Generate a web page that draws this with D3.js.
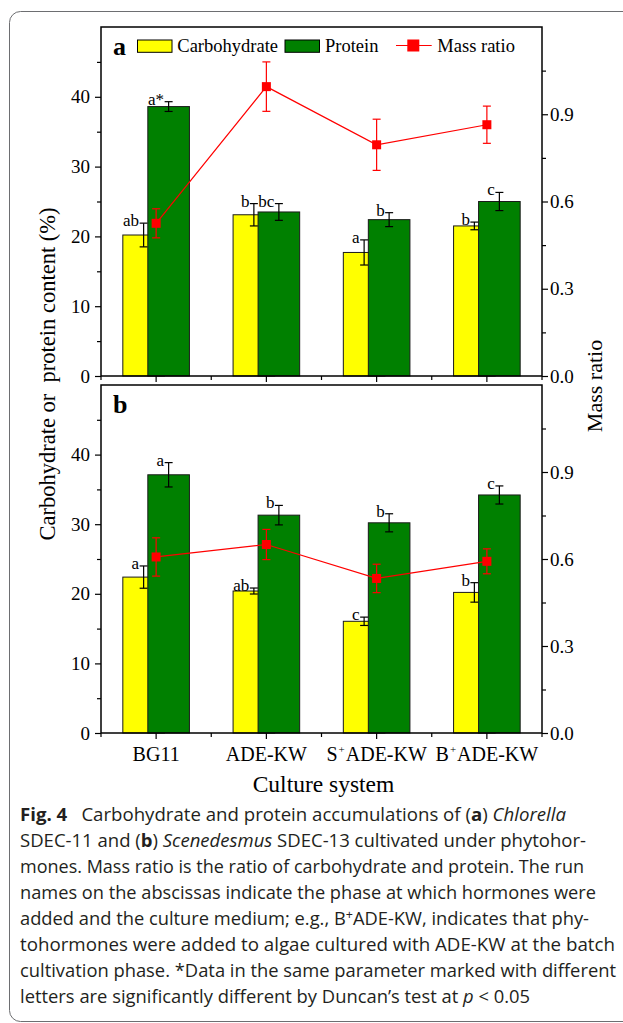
<!DOCTYPE html>
<html><head><meta charset="utf-8">
<script src="https://cdn.jsdelivr.net/npm/d3@7"></script>
<style>body{margin:0;background:#fff} svg{display:block} text{white-space:pre}</style>
</head><body><svg id="c" width="623" height="1023"></svg>
<script>
// ---------------- data ----------------
const categories = ["BG11", "ADE-KW", "S+ADE-KW", "B+ADE-KW"];

const carbA    = [20.2, 23.1, 17.7, 21.5];
const carbAErr = [1.7, 1.6, 1.8, 0.55];
const protA    = [38.6, 23.5, 22.4, 25.0];
const protAErr = [0.7, 1.2, 1.0, 1.3];
const ratioA   = [0.525, 0.995, 0.795, 0.864];
const ratioAErr= [0.05, 0.085, 0.088, 0.064];
const lettersCarbA = ["ab", "b", "a", "b"];
const lettersProtA = ["a*", "bc", "b", "c"];

const carbB    = [22.4, 20.4, 16.05, 20.2];
const carbBErr = [1.6, 0.43, 0.6, 1.4];
const protB    = [37.1, 31.3, 30.2, 34.2];
const protBErr = [1.75, 1.4, 1.3, 1.3];
const ratioB   = [0.607, 0.650, 0.533, 0.592];
const ratioBErr= [0.066, 0.052, 0.049, 0.043];
const lettersCarbB = ["a", "ab", "c", "b"];
const lettersProtB = ["a", "b", "b", "c"];

const leftTicks  = [0, 10, 20, 30, 40];
const leftMinor  = [5, 15, 25, 35, 45];
const rightTicks = [0, 0.3, 0.6, 0.9];
const rightMinor = [0.15, 0.45, 0.75, 1.05];

const seriesNames = ["Carbohydrate", "Protein", "Mass ratio"];
const yTitle = "Carbohydrate or  protein content (%)";
const y2Title = "Mass ratio";
const xTitle = "Culture system";

const caption = [
  [{t:"Fig. 4", b:1}, {t:"\u2002 Carbohydrate and protein accumulations of ("}, {t:"a", b:1}, {t:") "}, {t:"Chlorella", i:1}],
  [{t:"SDEC-11 and ("}, {t:"b", b:1}, {t:") "}, {t:"Scenedesmus", i:1}, {t:" SDEC-13 cultivated under phytohor-"}],
  [{t:"mones. Mass ratio is the ratio of carbohydrate and protein. The run"}],
  [{t:"names on the abscissas indicate the phase at which hormones were"}],
  [{t:"added and the culture medium; e.g., B"}, {t:"+", sup:1}, {t:"ADE-KW, indicates that phy-"}],
  [{t:"tohormones were added to algae cultured with ADE-KW at the batch"}],
  [{t:"cultivation phase. *Data in the same parameter marked with different"}],
  [{t:"letters are significantly different by Duncan\u2019s test at "}, {t:"p", i:1}, {t:" < 0.05"}]
];
const captionEnds = [566, 586, 584, 596, 589, 615, 616, 530];

// ---------------- drawing ----------------
const W = 623, H = 1023;
const svg = d3.select("#c");
svg.append("rect").attr("width", W).attr("height", H).attr("fill", "#fff");
svg.append("rect").attr("x", 9.5).attr("y", 11.5).attr("width", 720).attr("height", 1010)
  .attr("rx", 11).attr("fill", "none").attr("stroke", "#6d6e71").attr("stroke-width", 1);

const SERIF = "'Liberation Serif','Times New Roman',serif";
const L = 101, R = 542;
const x = d3.scaleBand().domain(categories).range([L, R]).padding(0);
const sub = d3.scalePoint().domain(["carb", "prot"]).range([-12.5, 12.5]);
const barW = 41.6;
const YELLOW = "#ffff00", GREEN = "#008000", RED = "#ff0000";

function supLabel(sel, supSize, rise) {
  sel.each(function(d) {
    const t = d3.select(this); const s = String(d);
    const i = s.indexOf("+");
    if (i < 0) return;
    t.text(null);
    t.append("tspan").text(s.slice(0, i));
    t.append("tspan").attr("font-size", supSize).attr("dy", -rise).attr("dx", 1).text("+");
    t.append("tspan").attr("dy", rise).attr("dx", 1).text(s.slice(i + 1));
  });
}

function panel(o) {
  const {top, bottom} = o;
  const y = d3.scaleLinear().domain([0, 50]).range([bottom, top]);
  const yr = d3.scaleLinear().domain([0, 1.2]).range([bottom, top]);
  const g = svg.append("g");
  const cx = c => x(c) + x.bandwidth() / 2;

  function bars(vals, errs, letters, key, color) {
    g.append("g").selectAll("rect").data(categories).join("rect")
      .attr("x", (c, i) => cx(c) + sub(key) - barW / 2)
      .attr("y", (c, i) => y(vals[i]))
      .attr("width", barW)
      .attr("height", (c, i) => bottom - y(vals[i]))
      .attr("fill", color).attr("stroke", "#1a1a1a").attr("stroke-width", 1);
    const eg = g.append("g").attr("stroke", "#000").attr("stroke-width", 1.2).attr("fill", "none");
    categories.forEach((c, i) => {
      const ex = cx(c) + sub(key);
      const t = y(vals[i] + errs[i]), b = y(vals[i] - errs[i]);
      eg.append("line").attr("x1", ex).attr("x2", ex).attr("y1", t).attr("y2", b);
      eg.append("line").attr("x1", ex - 4).attr("x2", ex + 4).attr("y1", t).attr("y2", t);
      eg.append("line").attr("x1", ex - 4).attr("x2", ex + 4).attr("y1", b).attr("y2", b);
      g.append("text").attr("x", ex - 4.5).attr("y", t + 3)
        .attr("text-anchor", "end").attr("font-family", SERIF).attr("font-size", 17)
        .attr("fill", "#000").text(letters[i]);
    });
  }
  bars(o.carb, o.carbErr, o.lc, "carb", YELLOW);
  bars(o.prot, o.protErr, o.lp, "prot", GREEN);

  // ratio line
  const line = d3.line().x((d, i) => cx(categories[i])).y(d => yr(d));
  g.append("path").datum(o.ratio).attr("d", line).attr("fill", "none")
    .attr("stroke", RED).attr("stroke-width", 1.2);
  const rg = g.append("g").attr("stroke", RED).attr("stroke-width", 1.2);
  categories.forEach((c, i) => {
    const ex = cx(c);
    const t = yr(o.ratio[i] + o.ratioErr[i]), b = yr(o.ratio[i] - o.ratioErr[i]);
    rg.append("line").attr("x1", ex).attr("x2", ex).attr("y1", t).attr("y2", b);
    rg.append("line").attr("x1", ex - 4).attr("x2", ex + 4).attr("y1", t).attr("y2", t);
    rg.append("line").attr("x1", ex - 4).attr("x2", ex + 4).attr("y1", b).attr("y2", b);
  });
  g.append("g").selectAll("rect").data(o.ratio).join("rect")
    .attr("x", (d, i) => cx(categories[i]) - 4.5).attr("y", d => yr(d) - 4.5)
    .attr("width", 9).attr("height", 9).attr("fill", RED);

  // frame
  g.append("rect").attr("x", L).attr("y", top).attr("width", R - L).attr("height", bottom - top)
    .attr("fill", "none").attr("stroke", "#000").attr("stroke-width", 1.5);

  const la = g.append("g").attr("transform", `translate(${L},0)`)
    .call(d3.axisLeft(y).tickValues(leftTicks).tickSize(6).tickPadding(5).tickFormat(d3.format("d")));
  const lm = g.append("g").attr("transform", `translate(${L},0)`)
    .call(d3.axisLeft(y).tickValues(leftMinor).tickSize(4).tickFormat(""));
  const ra = g.append("g").attr("transform", `translate(${R},0)`)
    .call(d3.axisRight(yr).tickValues(rightTicks).tickSize(6).tickPadding(2).tickFormat(d3.format(".1f")));
  const rm = g.append("g").attr("transform", `translate(${R},0)`)
    .call(d3.axisRight(yr).tickValues(rightMinor).tickSize(4).tickFormat(""));
  const ba = g.append("g").attr("transform", `translate(0,${bottom})`)
    .call(d3.axisBottom(x).tickSize(6).tickPadding(8).tickFormat(o.showX ? (d => d) : ""));
  const bm = g.append("g").attr("transform", `translate(0,${bottom})`);
  bm.selectAll("line").data(categories.map(c => x(c)).concat([R])).join("line")
    .attr("x1", d => d).attr("x2", d => d).attr("y1", 0).attr("y2", 4)
    .attr("stroke", "#000").attr("stroke-width", 1.2);

  [la, lm, ra, rm, ba].forEach(a => {
    a.select(".domain").remove();
    a.selectAll("line").attr("stroke", "#000").attr("stroke-width", 1.2);
    a.selectAll("text").attr("font-family", SERIF).attr("fill", "#000");
  });
  la.selectAll("text").attr("font-size", 19);
  ra.selectAll("text").attr("font-size", 19);
  ba.selectAll("text").attr("font-size", 20);
  if (o.showX) ba.selectAll("text").call(supLabel, 11, 8);

  g.append("text").attr("x", L + 12).attr("y", top + 28).attr("font-family", SERIF)
    .attr("font-weight", "bold").attr("font-size", 26).text(o.tag);
}

panel({top: 27, bottom: 376, carb: carbA, carbErr: carbAErr, prot: protA, protErr: protAErr,
  ratio: ratioA, ratioErr: ratioAErr, lc: lettersCarbA, lp: lettersProtA, tag: "a", showX: false});
panel({top: 385, bottom: 733, carb: carbB, carbErr: carbBErr, prot: protB, protErr: protBErr,
  ratio: ratioB, ratioErr: ratioBErr, lc: lettersCarbB, lp: lettersProtB, tag: "b", showX: true});

// legend
const lg = svg.append("g").attr("font-family", SERIF).attr("font-size", 18.5);
lg.append("rect").attr("x", 137.5).attr("y", 40).attr("width", 34.5).attr("height", 12.3)
  .attr("fill", YELLOW).attr("stroke", "#000").attr("stroke-width", 1);
lg.append("text").attr("x", 177.3).attr("y", 52).text(seriesNames[0]);
lg.append("rect").attr("x", 285).attr("y", 40).attr("width", 34.5).attr("height", 12.3)
  .attr("fill", GREEN).attr("stroke", "#000").attr("stroke-width", 1);
lg.append("text").attr("x", 325).attr("y", 52).text(seriesNames[1]);
lg.append("line").attr("x1", 396).attr("x2", 431.7).attr("y1", 45.5).attr("y2", 45.5)
  .attr("stroke", RED).attr("stroke-width", 1.2);
lg.append("rect").attr("x", 413.3 - 6).attr("y", 45.5 - 6).attr("width", 12).attr("height", 12).attr("fill", RED);
lg.append("text").attr("x", 437.3).attr("y", 52).text(seriesNames[2]);

// axis titles
svg.append("text").attr("transform", "translate(55,374) rotate(-90)").attr("text-anchor", "middle")
  .attr("font-family", SERIF).attr("font-size", 22.5).text(yTitle);
svg.append("text").attr("transform", "translate(602,386) rotate(-90)").attr("text-anchor", "middle")
  .attr("font-family", SERIF).attr("font-size", 22).text(y2Title);
svg.append("text").attr("x", 323.5).attr("y", 792).attr("text-anchor", "middle")
  .attr("font-family", SERIF).attr("font-size", 23.5).text(xTitle);

// caption
const cg = svg.append("g").attr("font-family", "'Open Sans','Noto Sans',sans-serif")
  .attr("font-size", 17.5).attr("fill", "#231f20");
caption.forEach((segs, li) => {
  const t = cg.append("text").attr("x", 20).attr("y", 821 + li * 26)
    .attr("textLength", captionEnds[li] - 20).attr("lengthAdjust", "spacingAndGlyphs");
  let prevSup = false;
  segs.forEach(s => {
    const sp = t.append("tspan").text(s.t);
    if (s.b) sp.attr("font-weight", "bold");
    if (s.i) sp.attr("font-style", "italic");
    if (s.sup) sp.attr("font-size", 12).attr("dy", -6);
    else if (prevSup) sp.attr("dy", 6);
    prevSup = !!s.sup;
  });
});
</script></body></html>
